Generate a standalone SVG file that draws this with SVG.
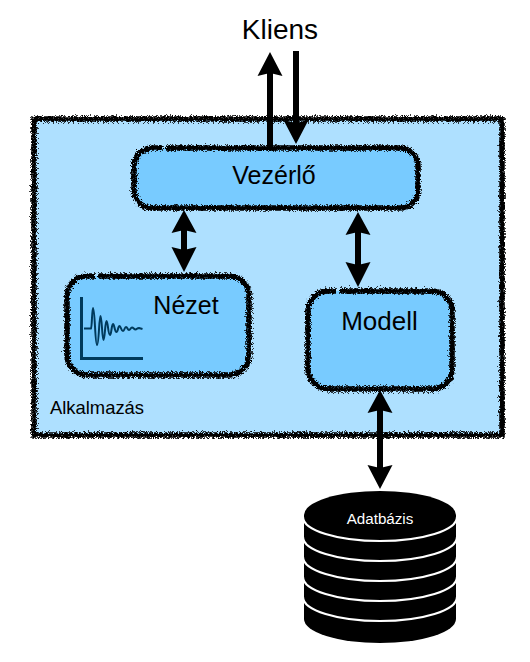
<svg xmlns="http://www.w3.org/2000/svg" width="530" height="662" viewBox="0 0 530 662">
<style>
text{font-family:"Liberation Sans",Arial,sans-serif;fill:#000}
.box{fill:#78cbff}
.rough{fill:none;stroke:#000;stroke-width:5.500;filter:url(#rough)}
.conn{stroke:#000;stroke-width:6;fill:none}
.head{fill:#000}
.line{fill:none;stroke:#fff;stroke-width:2.200}
</style>
<defs>
<filter id="rough" filterUnits="userSpaceOnUse" x="0" y="0" width="530" height="662">
<feTurbulence type="turbulence" baseFrequency="0.8" numOctaves="3" seed="4" result="n"/>
<feDisplacementMap in="SourceGraphic" in2="n" scale="5" xChannelSelector="R" yChannelSelector="G"/>
<feOffset dx="-1.300" dy="-1.300"/>
</filter>
</defs>
<rect width="530" height="662" fill="#fff"/>
<g id="alkalmazas">
<rect x="34" y="119" width="468" height="316" fill="#aee0ff"/>
<rect class="rough" x="34" y="119" width="468" height="316"/>
<text x="50" y="414" font-size="18.400">Alkalmazás</text>
</g>
<g id="vezerlo">
<rect class="box" x="134" y="148" width="284" height="60" rx="18"/>
<path class="rough" d="M166 148H400A18 18 0 0 1 418 166V190A18 18 0 0 1 400 208H152A18 18 0 0 1 134 190V166A18 18 0 0 1 152 148H163"/>
<text x="274" y="184" font-size="25" text-anchor="middle">Vezérlő</text>
</g>
<g id="nezet">
<rect class="box" x="67" y="276" width="182" height="99" rx="20"/>
<path class="rough" d="M98 276H229A20 20 0 0 1 249 296V355A20 20 0 0 1 229 375H87A20 20 0 0 1 67 355V296A20 20 0 0 1 87 276H95"/>
<text x="186" y="314" font-size="25" text-anchor="middle">Nézet</text>
<path d="M81.500 297V358.500H143" fill="none" stroke="#003a5c" stroke-width="3"/>
<path d="M84 328.500H91C92 328 92 308 93 308C95 308 95 345 97 345C99 345 99 316 100.500 316C102 316 102 340 103.500 340C105 340 105 321 106.500 321C108 321 108 335 110 335C111.500 335 111.500 324 113 324C114.500 324 114.500 332 116.500 332C118 332 118 326 119.500 326C121 326 121 331 123 331C124.500 331 124.500 327 126 327C127.500 327 127.500 330 129 330C130.500 330 130.500 327.500 132 327.500C133.500 327.500 134 329.500 135.500 329.500C137 329.500 137 328 139 328L142.500 329" fill="none" stroke="#003a5c" stroke-width="2"/>
</g>
<g id="modell">
<rect class="box" x="308" y="291" width="144" height="98" rx="20"/>
<path class="rough" d="M339 291H432A20 20 0 0 1 452 311V369A20 20 0 0 1 432 389H328A20 20 0 0 1 308 369V311A20 20 0 0 1 328 291H336"/>
<text x="379.500" y="330" font-size="26" text-anchor="middle">Modell</text>
</g>
<g id="adatbazis">
<path d="M304 515A76 24 0 0 1 456 515V619A76 24 0 0 1 304 619Z" fill="#000"/>
<path class="line" d="M303 517A77 24 0 0 0 457 517M303 537A77 24 0 0 0 457 537M303 557A77 24 0 0 0 457 557M303 577A77 24 0 0 0 457 577M303 597A77 24 0 0 0 457 597"/>
<text x="380" y="524" font-size="15.200" text-anchor="middle" style="fill:#fff">Adatbázis</text>
</g>
<g id="connectors">
<path class="conn" d="M270 147V70M296 51V125M184 228V254M358 230V270M380 410V470"/>
<path class="head" d="M270 52L282.500 76L270 73L257.500 76Z"/>
<path class="head" d="M296 144L283.500 120L296 123L308.500 120Z"/>
<path class="head" d="M184 210L196.500 233L184 230L171.500 233Z"/>
<path class="head" d="M184 272L171.500 247L184 250L196.500 247Z"/>
<path class="head" d="M358 212L370.500 235L358 232L345.500 235Z"/>
<path class="head" d="M358 287L345.500 262L358 265L370.500 262Z"/>
<path class="head" d="M380 390L392.500 413L380 410L367.500 413Z"/>
<path class="head" d="M380 489L367.500 465L380 468L392.500 465Z"/>
</g>
<g id="kliens">
<text x="280" y="39" font-size="28" text-anchor="middle">Kliens</text>
</g>
</svg>
